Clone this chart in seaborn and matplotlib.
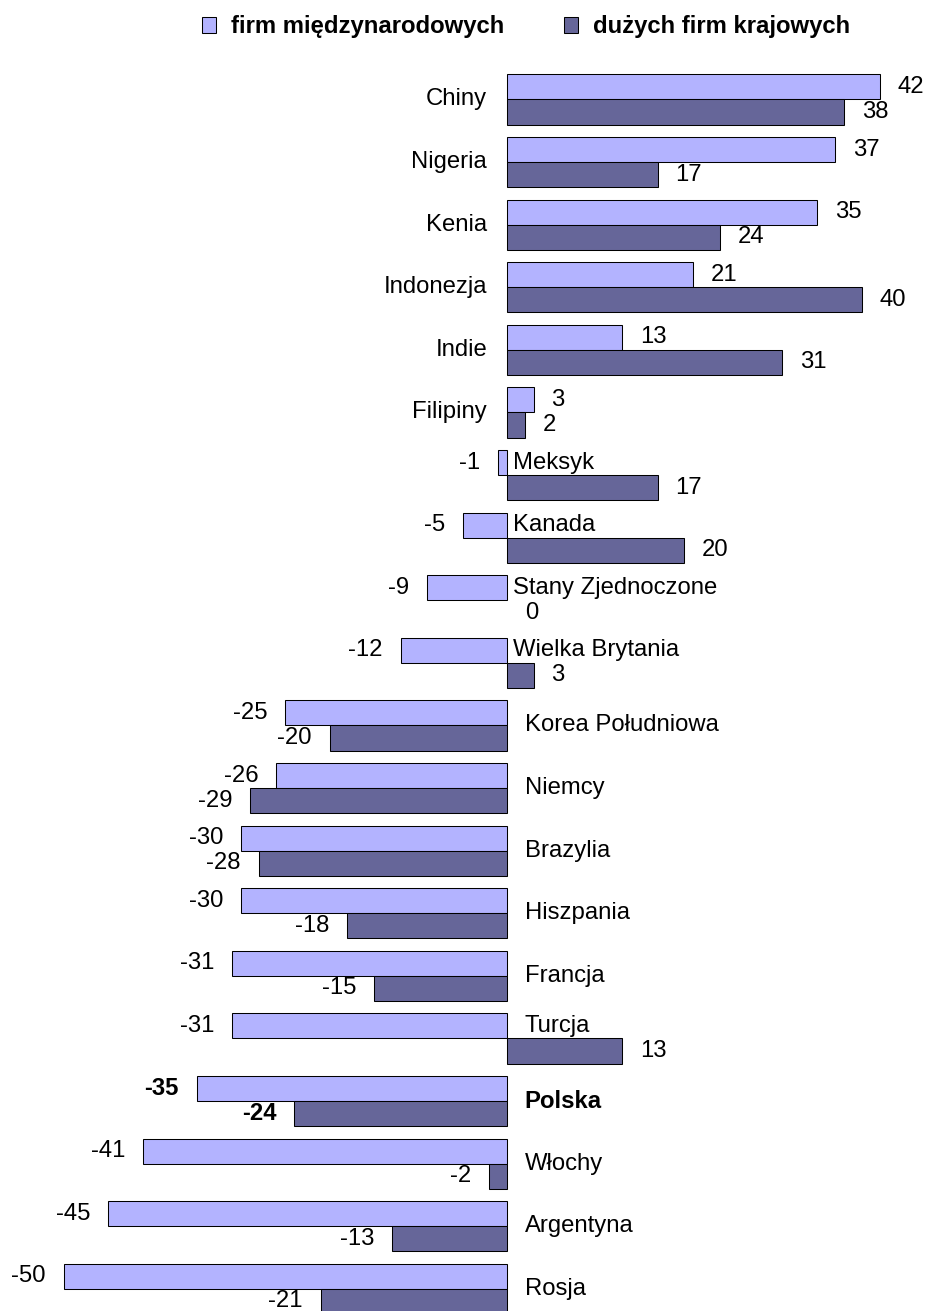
import matplotlib
matplotlib.use("Agg")
import matplotlib.pyplot as plt
from matplotlib.patches import Patch
import pandas as pd
import seaborn as sns

# ----------------------
# Data
# ----------------------
kraje = [
    "Chiny", "Nigeria", "Kenia", "Indonezja", "Indie", "Filipiny", "Meksyk",
    "Kanada", "Stany Zjednoczone", "Wielka Brytania", "Korea Południowa",
    "Niemcy", "Brazylia", "Hiszpania", "Francja", "Turcja", "Polska",
    "Włochy", "Argentyna", "Rosja",
]
firmy_miedzynarodowe = [42, 37, 35, 21, 13, 3, -1, -5, -9, -12, -25, -26,
                        -30, -30, -31, -31, -35, -41, -45, -50]
firmy_krajowe = [38, 17, 24, 40, 31, 2, 17, 20, 0, 3, -20, -29, -28, -18,
                 -15, 13, -24, -2, -13, -21]
serie = ["firm międzynarodowych", "dużych firm krajowych"]
wyrozniony = "Polska"

kolory = ["#B3B3FF", "#666699"]

df = pd.DataFrame({
    "kraj": kraje * 2,
    "seria": [serie[0]] * len(kraje) + [serie[1]] * len(kraje),
    "wartosc": firmy_miedzynarodowe + firmy_krajowe,
})

# ----------------------
# Plot
# ----------------------
sns.set_style("white")
plt.rcParams["font.family"] = ["Liberation Sans", "DejaVu Sans"]
plt.rcParams["text.color"] = "black"
FS = 17.2

fig = plt.figure(figsize=(9.27, 13.11), dpi=100)
ax = fig.add_axes([0, 0, 1, 1])

sns.barplot(
    data=df, x="wartosc", y="kraj", hue="seria", hue_order=serie,
    order=kraje, palette=kolory, saturation=1, orient="h", width=0.8,
    errorbar=None, edgecolor="black", linewidth=0.75, legend=False, ax=ax,
)

ax.set_xlim(-57.16, 47.35)
ax.set_ylim(19.353, -1.589)
ax.axis("off")

# value labels next to bar ends
off = 2.0
for cont in ax.containers:
    for bar, kraj in zip(cont, kraje):
        v = bar.get_width()
        yc = bar.get_y() + bar.get_height() / 2
        bold = "bold" if kraj == wyrozniony else "normal"
        if v == 0:
            bar.set_linewidth(0)
        if v >= 0:
            ax.text(v + off, yc, f"{v:.0f}", ha="left", va="center",
                    fontsize=FS, fontweight=bold)
        else:
            ax.text(v - off, yc, f"{v:.0f}", ha="right", va="center",
                    fontsize=FS, fontweight=bold)

# country labels
for i, (kraj, a, b) in enumerate(zip(kraje, firmy_miedzynarodowe, firmy_krajowe)):
    bold = "bold" if kraj == wyrozniony else "normal"
    if a >= 0 and b >= 0:
        ax.text(-2.25, i, kraj, ha="right", va="center", fontsize=FS)
    elif a < 0 and b >= 0:
        x = 2.0 if a <= -20 else 0.7
        ax.text(x, i - 0.2, kraj, ha="left", va="center", fontsize=FS)
    else:
        ax.text(2.0, i, kraj, ha="left", va="center", fontsize=FS,
                fontweight=bold)

# legend
uchwyty = [Patch(facecolor=c, edgecolor="black", linewidth=0.75) for c in kolory]
fig.legend(
    uchwyty, serie, loc="center", bbox_to_anchor=(526 / 927, 1 - 27 / 1311),
    ncol=2, frameon=False, prop={"weight": "bold", "size": FS},
    handlelength=0.6, handleheight=0.6, handletextpad=0.63,
    columnspacing=2.5, borderpad=0, borderaxespad=0,
)

fig.savefig("out.png", dpi=100)
plt.close(fig)
